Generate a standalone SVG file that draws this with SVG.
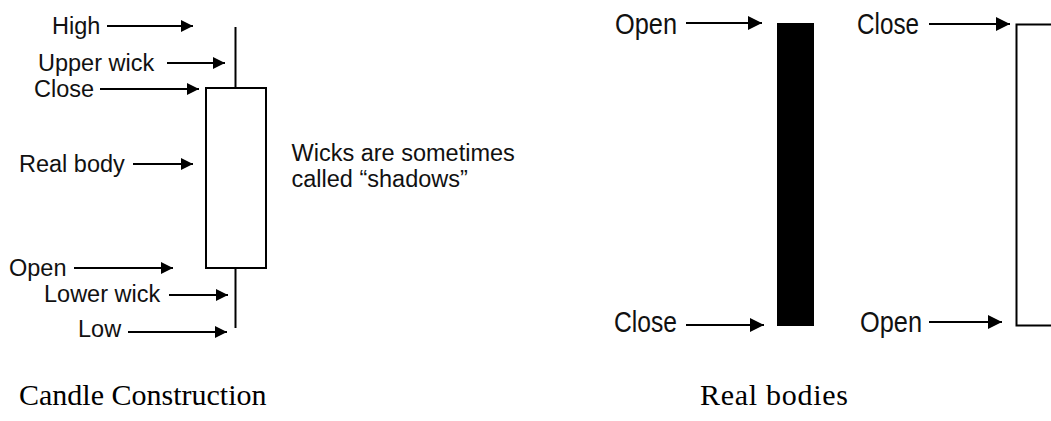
<svg xmlns="http://www.w3.org/2000/svg" width="1051" height="421" viewBox="0 0 1051 421">
  <style>
    .lbl { font-family: "Liberation Sans", Arial, sans-serif; font-size: 23.5px; fill: #111; }
    .rlbl { font-family: "Liberation Sans", Arial, sans-serif; font-size: 29px; fill: #111; }
    .cap { font-family: "Liberation Serif", "Times New Roman", serif; font-size: 30px; fill: #000; }
    .arr { stroke: #000; stroke-width: 2; fill: none; }
    .arrS { marker-end: url(#headS); }
    .arrL { marker-end: url(#headL); }
    .candle { stroke: #000; stroke-width: 2; fill: #fff; }
  </style>
  <defs>
    <marker id="headS" markerUnits="userSpaceOnUse" markerWidth="13" markerHeight="12" refX="12" refY="6" orient="auto">
      <path d="M0,0 L12,6 L0,12 Z" fill="#000"/>
    </marker>
    <marker id="headL" markerUnits="userSpaceOnUse" markerWidth="15" markerHeight="14" refX="14" refY="7" orient="auto">
      <path d="M0,0 L14,7 L0,14 Z" fill="#000"/>
    </marker>
  </defs>
  <rect width="1051" height="421" fill="#fff"/>

  <!-- Candle construction: wick and body -->
  <g id="candle-construction">
    <line class="candle" x1="235.5" y1="27" x2="235.5" y2="88"/>
    <rect class="candle" x="206" y="88" width="60" height="180"/>
    <line class="candle" x1="235.5" y1="268" x2="235.5" y2="328"/>
  </g>

  <!-- Part labels -->
  <g id="label-high"><text class="lbl" x="52" y="33.5">High</text></g>
  <g id="label-upper-wick"><text class="lbl" x="38" y="70.5">Upper wick</text></g>
  <g id="label-close"><text class="lbl" x="34" y="97">Close</text></g>
  <g id="label-real-body"><text class="lbl" x="19" y="171.5">Real body</text></g>
  <g id="label-open"><text class="lbl" x="9" y="275.5">Open</text></g>
  <g id="label-lower-wick"><text class="lbl" x="44" y="302">Lower wick</text></g>
  <g id="label-low"><text class="lbl" x="78" y="337">Low</text></g>

  <g id="note-shadows">
    <text class="lbl" x="291.5" y="160.5">Wicks are sometimes</text>
    <text class="lbl" x="291.5" y="186.5">called “shadows”</text>
  </g>

  <!-- Real bodies: filled (bearish) and hollow (bullish) -->
  <g id="body-filled">
    <rect x="777" y="23" width="37" height="303" fill="#000"/>
  </g>
  <g id="body-hollow">
    <rect class="candle" x="1016.5" y="24.5" width="60" height="301"/>
  </g>

  <g id="label-filled-open"><text class="rlbl" x="615" y="34" textLength="62" lengthAdjust="spacingAndGlyphs">Open</text></g>
  <g id="label-filled-close"><text class="rlbl" x="614" y="332" textLength="63" lengthAdjust="spacingAndGlyphs">Close</text></g>
  <g id="label-hollow-close"><text class="rlbl" x="857" y="34" textLength="62" lengthAdjust="spacingAndGlyphs">Close</text></g>
  <g id="label-hollow-open"><text class="rlbl" x="860" y="332" textLength="62" lengthAdjust="spacingAndGlyphs">Open</text></g>

  <!-- Captions -->
  <g id="caption-construction"><text class="cap" x="19" y="405">Candle Construction</text></g>
  <g id="caption-bodies"><text class="cap" x="700" y="405" textLength="148">Real bodies</text></g>

  <!-- Connectors -->
  <g id="connectors">
    <line class="arr arrS" x1="107" y1="26" x2="193" y2="26"/>
    <line class="arr arrS" x1="167" y1="63" x2="225" y2="63"/>
    <line class="arr arrS" x1="100" y1="89" x2="199" y2="89"/>
    <line class="arr arrS" x1="133" y1="164" x2="193" y2="164"/>
    <line class="arr arrS" x1="74" y1="268" x2="173" y2="268"/>
    <line class="arr arrS" x1="169" y1="295" x2="228" y2="295"/>
    <line class="arr arrS" x1="128" y1="332" x2="227" y2="332"/>

    <line class="arr arrL" x1="686" y1="23" x2="762" y2="23"/>
    <line class="arr arrL" x1="686" y1="325" x2="764" y2="325"/>
    <line class="arr arrL" x1="929" y1="24" x2="1010" y2="24"/>
    <line class="arr arrL" x1="929" y1="322" x2="1002" y2="322"/>
  </g>
</svg>
